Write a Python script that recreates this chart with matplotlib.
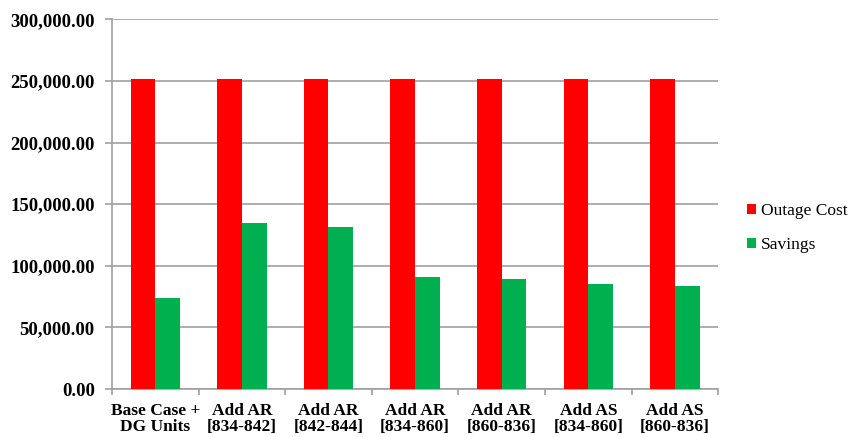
import numpy as np
import matplotlib
matplotlib.use("Agg")
import matplotlib.pyplot as plt
from matplotlib.ticker import FuncFormatter, MultipleLocator

categories = ["Base Case +\nDG Units", "Add AR\n[834-842]", "Add AR\n[842-844]",
              "Add AR\n[834-860]", "Add AR\n[860-836]", "Add AS\n[834-860]",
              "Add AS\n[860-836]"]
outage_cost = [251800, 251800, 251800, 251800, 251800, 251800, 251800]
savings = [73700, 135100, 131800, 91000, 88900, 85300, 83200]

plt.rcParams['font.family'] = ['Liberation Serif', 'DejaVu Serif']

fig = plt.figure(figsize=(8.57, 4.37), dpi=100)
ax = fig.add_axes([0.1307, 0.1098, 0.7073, 0.846])

x = np.arange(len(categories))
w = 0.286
ax.bar(x - w / 2, outage_cost, w, color='#ff0000', label='Outage Cost', zorder=3)
ax.bar(x + w / 2, savings, w, color='#00b050', label='Savings', zorder=3)

ax.set_xlim(-0.5, len(categories) - 0.5)
ax.set_ylim(0, 300000)
ax.yaxis.set_major_locator(MultipleLocator(50000))
ax.yaxis.set_major_formatter(FuncFormatter(lambda v, p: f"{v:,.2f}"))
ax.grid(axis='y', color='#a0a0a0', linewidth=1.2, zorder=0)

ax.set_xticks(x)
ax.set_xticklabels(categories, fontweight='bold', fontsize=12.5, linespacing=1.0)
ax.set_xticks(np.arange(-0.5, len(categories)), minor=True)
ax.tick_params(axis='x', which='major', length=0, pad=10)
ax.tick_params(axis='x', which='minor', length=4, color='#a0a0a0', width=1.2)
ax.tick_params(axis='y', length=5, color='#a0a0a0', width=1.2, labelsize=13.5, pad=7.5)
for lab in ax.get_yticklabels():
    lab.set_fontweight('bold')

for s in ['top', 'right']:
    ax.spines[s].set_visible(False)
for s in ['left', 'bottom']:
    ax.spines[s].set_color('#a0a0a0')
    ax.spines[s].set_linewidth(1.2)

ax.legend(loc='center left', bbox_to_anchor=(1.022, 0.435), frameon=False,
          fontsize=12.5, handlelength=0.5, handleheight=0.5, handletextpad=0.3,
          labelspacing=1.05)

fig.savefig('out.png', dpi=100)
